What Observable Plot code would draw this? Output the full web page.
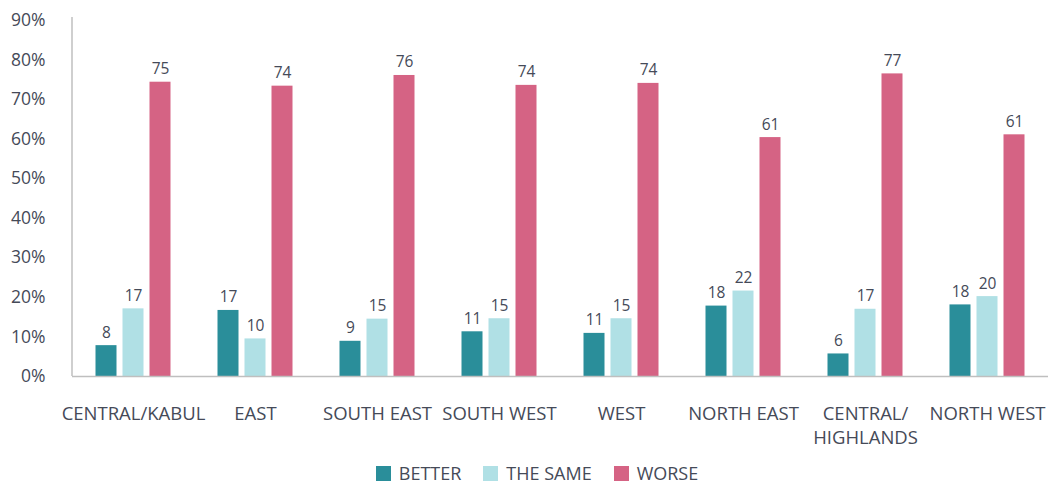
<!DOCTYPE html>
<html>
<head>
<meta charset="utf-8">
<script src="https://cdn.jsdelivr.net/npm/d3@7"></script>
<script src="https://cdn.jsdelivr.net/npm/@observablehq/plot@0.6"></script>
<style>
  html, body { margin: 0; padding: 0; background: #fff; }
  body { width: 1054px; height: 486px; overflow: hidden; font-family: "Open Sans", sans-serif; color: #454a58; }
  #legend { display: flex; justify-content: center; align-items: center; height: 26px; margin-top: 2px; font-size: 18px; line-height: 22px; padding-left: 20px; }
  .item { display: flex; align-items: center; margin: 0 11px; }
  .sw { width: 15px; height: 15px; margin-right: 8px; }
</style>
</head>
<body>
<div id="chart"></div>
<div id="legend"></div>
<script>
const regions = ["CENTRAL/KABUL", "EAST", "SOUTH EAST", "SOUTH WEST", "WEST", "NORTH EAST", "CENTRAL/\nHIGHLANDS", "NORTH WEST"];
const seriesNames = ["BETTER", "THE SAME", "WORSE"];
const seriesColors = ["#2a8e9a", "#b0e0e5", "#d56384"];
const betterValues = [7.8, 16.7, 8.9, 11.3, 10.9, 17.8, 5.7, 18.1];
const sameValues = [17.1, 9.5, 14.5, 14.6, 14.6, 21.6, 17.0, 20.2];
const worseValues = [74.4, 73.4, 76.1, 73.6, 74.1, 60.4, 76.5, 61.1];
const betterLabels = [8, 17, 9, 11, 11, 18, 6, 18];
const sameLabels = [17, 10, 15, 15, 15, 22, 17, 20];
const worseLabels = [75, 74, 76, 74, 74, 61, 77, 61];
const yTicks = [0, 10, 20, 30, 40, 50, 60, 70, 80, 90];

const series = [
  {name: seriesNames[0], values: betterValues, labels: betterLabels, color: seriesColors[0], inL: 23.5, inR: 77.5, dx: -27},
  {name: seriesNames[1], values: sameValues, labels: sameLabels, color: seriesColors[1], inL: 50.5, inR: 50.5, dx: 0},
  {name: seriesNames[2], values: worseValues, labels: worseLabels, color: seriesColors[2], inL: 77.5, inR: 23.5, dx: 27}
];

const textColor = "#454a58";
const marks = [];
for (const s of series) {
  const data = regions.map((r, i) => ({region: r, value: s.values[i], label: s.labels[i]}));
  marks.push(Plot.barY(data, {x: "region", y: "value", fill: s.color, insetLeft: s.inL, insetRight: s.inR}));
  marks.push(Plot.text(data, {x: "region", y: "value", text: d => String(d.label), dx: s.dx, dy: -8, lineAnchor: "bottom", fill: textColor, fontSize: 15.5}));
}
marks.push(Plot.ruleY([0], {stroke: "#bfbfbf", strokeWidth: 1.5}));
marks.push(Plot.text(regions, {x: d => d, text: d => d, frameAnchor: "bottom", lineAnchor: "top", dy: 26, lineHeight: 1.3, fill: textColor, fontSize: 18.5}));

const plot = Plot.plot({
  width: 1054,
  height: 458,
  marginLeft: 72,
  marginRight: 6,
  marginTop: 20,
  marginBottom: 82,
  style: {fontFamily: "'Open Sans', sans-serif", fontSize: "17.5px", color: textColor, background: "#fff", display: "block"},
  x: {domain: regions, padding: 0, axis: null},
  y: {domain: [0, 90], ticks: yTicks, tickFormat: d => d + "%", tickSize: 0, tickPadding: 27, label: null},
  marks
});
document.getElementById("chart").appendChild(plot);

// y axis line
const ys = plot.scale("y");
d3.select(plot).append("line")
  .attr("x1", 72).attr("x2", 72)
  .attr("y1", ys.apply(90) - 3).attr("y2", ys.apply(0))
  .attr("stroke", "#bfbfbf").attr("stroke-width", 1.5);

const legend = document.getElementById("legend");
series.forEach(s => {
  const it = document.createElement("div");
  it.className = "item";
  it.innerHTML = `<div class="sw" style="background:${s.color}"></div><span>${s.name}</span>`;
  legend.appendChild(it);
});
</script>
</body>
</html>
